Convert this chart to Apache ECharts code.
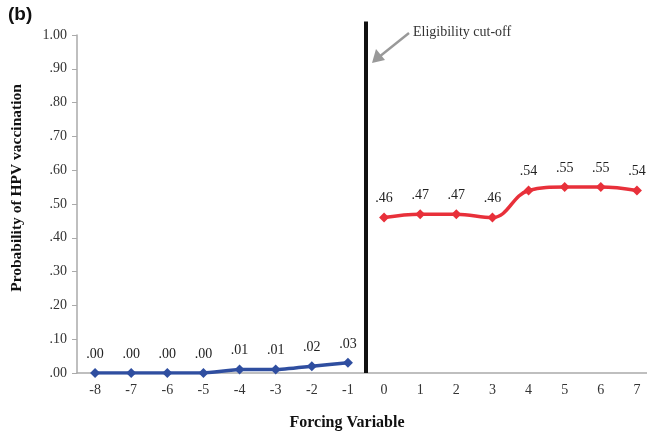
<!DOCTYPE html>
<html>
<head>
<meta charset="utf-8">
<script src="https://cdn.jsdelivr.net/npm/echarts@6/dist/echarts.min.js"></script>
<style>
  html, body { margin: 0; padding: 0; background: #fff; }
  #chart { width: 647px; height: 431px; }
</style>
</head>
<body>
<div id="chart"></div>
<script>
const categories = ["-8", "-7", "-6", "-5", "-4", "-3", "-2", "-1", "0", "1", "2", "3", "4", "5", "6", "7"];
const belowCutoff = [0.00, 0.00, 0.00, 0.00, 0.01, 0.01, 0.02, 0.03];
const aboveCutoff = [0.46, 0.47, 0.47, 0.46, 0.54, 0.55, 0.55, 0.54];
const cutoffValue = -0.5;
const yTicks = [0, 0.1, 0.2, 0.3, 0.4, 0.5, 0.6, 0.7, 0.8, 0.9, 1.0];

const serif = "'Liberation Serif', 'DejaVu Serif', serif";
const fmt = (v) => v.toFixed(2).replace(/^0/, "");

// pad each series to the full category range
const blueData = categories.map((c, i) => (i < belowCutoff.length ? belowCutoff[i] : null));
const redData = categories.map((c, i) =>
  i >= belowCutoff.length ? aboveCutoff[i - belowCutoff.length] : null
);

const chart = echarts.init(document.getElementById("chart"));
chart.setOption({
  backgroundColor: "#fff",
  animation: false,
  grid: { left: 77, top: 35, width: 578, height: 338, outerBoundsMode: "none" },
  xAxis: [
    {
      type: "category",
      data: categories,
      boundaryGap: true,
      axisLine: { onZero: false, lineStyle: { color: "#aaa", width: 1.5 } },
      axisTick: { alignWithLabel: true, length: 5, lineStyle: { color: "#aaa" } },
      axisLabel: { color: "#333", fontFamily: serif, fontSize: 14, margin: 10 },
    },
    { type: "value", min: -8.5, max: 7.5, show: false },
  ],
  yAxis: [
    {
      type: "value",
      min: yTicks[0],
      max: yTicks[yTicks.length - 1],
      interval: 0.1,
      axisLine: { show: true, onZero: false, lineStyle: { color: "#aaa", width: 1.5 } },
      axisTick: { show: true, length: 5, lineStyle: { color: "#aaa" } },
      splitLine: { show: false },
      axisLabel: { color: "#333", fontFamily: serif, fontSize: 14, margin: 10, formatter: fmt },
    },
    { type: "value", min: 0, max: 1, show: false },
  ],
  graphic: [
    {
      type: "text", left: 8, top: 5,
      style: { text: "(b)", font: "bold 19px 'Liberation Sans', Arial, sans-serif", fill: "#111" },
    },
    {
      type: "text", x: 17, y: 188, rotation: Math.PI / 2,
      style: {
        text: "Probability of HPV vaccination",
        font: "bold 15.5px " + serif, fill: "#111",
        align: "center", verticalAlign: "middle",
      },
    },
    {
      type: "text", x: 347, y: 423,
      style: {
        text: "Forcing Variable",
        font: "bold 16px " + serif, fill: "#111",
        align: "center", verticalAlign: "middle",
      },
    },
    {
      type: "text", x: 413, y: 32,
      style: {
        text: "Eligibility cut-off",
        font: "14px " + serif, fill: "#333",
        align: "left", verticalAlign: "middle",
      },
    },
    {
      type: "line",
      shape: { x1: 409, y1: 33, x2: 379, y2: 57 },
      style: { stroke: "#999", lineWidth: 2.5 },
    },
    {
      type: "polygon",
      shape: { points: [[372, 63], [376, 49], [385, 60]] },
      style: { fill: "#999" },
    },
  ],
  series: [
    {
      type: "line",
      data: blueData,
      smooth: 0.15,
      symbol: "diamond",
      symbolSize: 10,
      itemStyle: { color: "#2f4ea0" },
      lineStyle: { color: "#2f4ea0", width: 3.5 },
      label: {
        show: true, position: "top", distance: 7,
        fontFamily: serif, fontSize: 14, color: "#222",
        formatter: (p) => fmt(p.value),
      },
    },
    {
      type: "line",
      data: redData,
      smooth: 0.4,
      symbol: "diamond",
      symbolSize: 10,
      itemStyle: { color: "#e8303a" },
      lineStyle: { color: "#e8303a", width: 3.5 },
      label: {
        show: true, position: "top", distance: 7,
        fontFamily: serif, fontSize: 14, color: "#222",
        formatter: (p) => fmt(p.value),
      },
    },
    {
      type: "line",
      xAxisIndex: 1,
      yAxisIndex: 1,
      clip: false,
      data: [[cutoffValue, 0], [cutoffValue, 1.04]],
      symbol: "none",
      lineStyle: { color: "#111", width: 4 },
      silent: true,
    },
  ],
});
</script>
</body>
</html>
